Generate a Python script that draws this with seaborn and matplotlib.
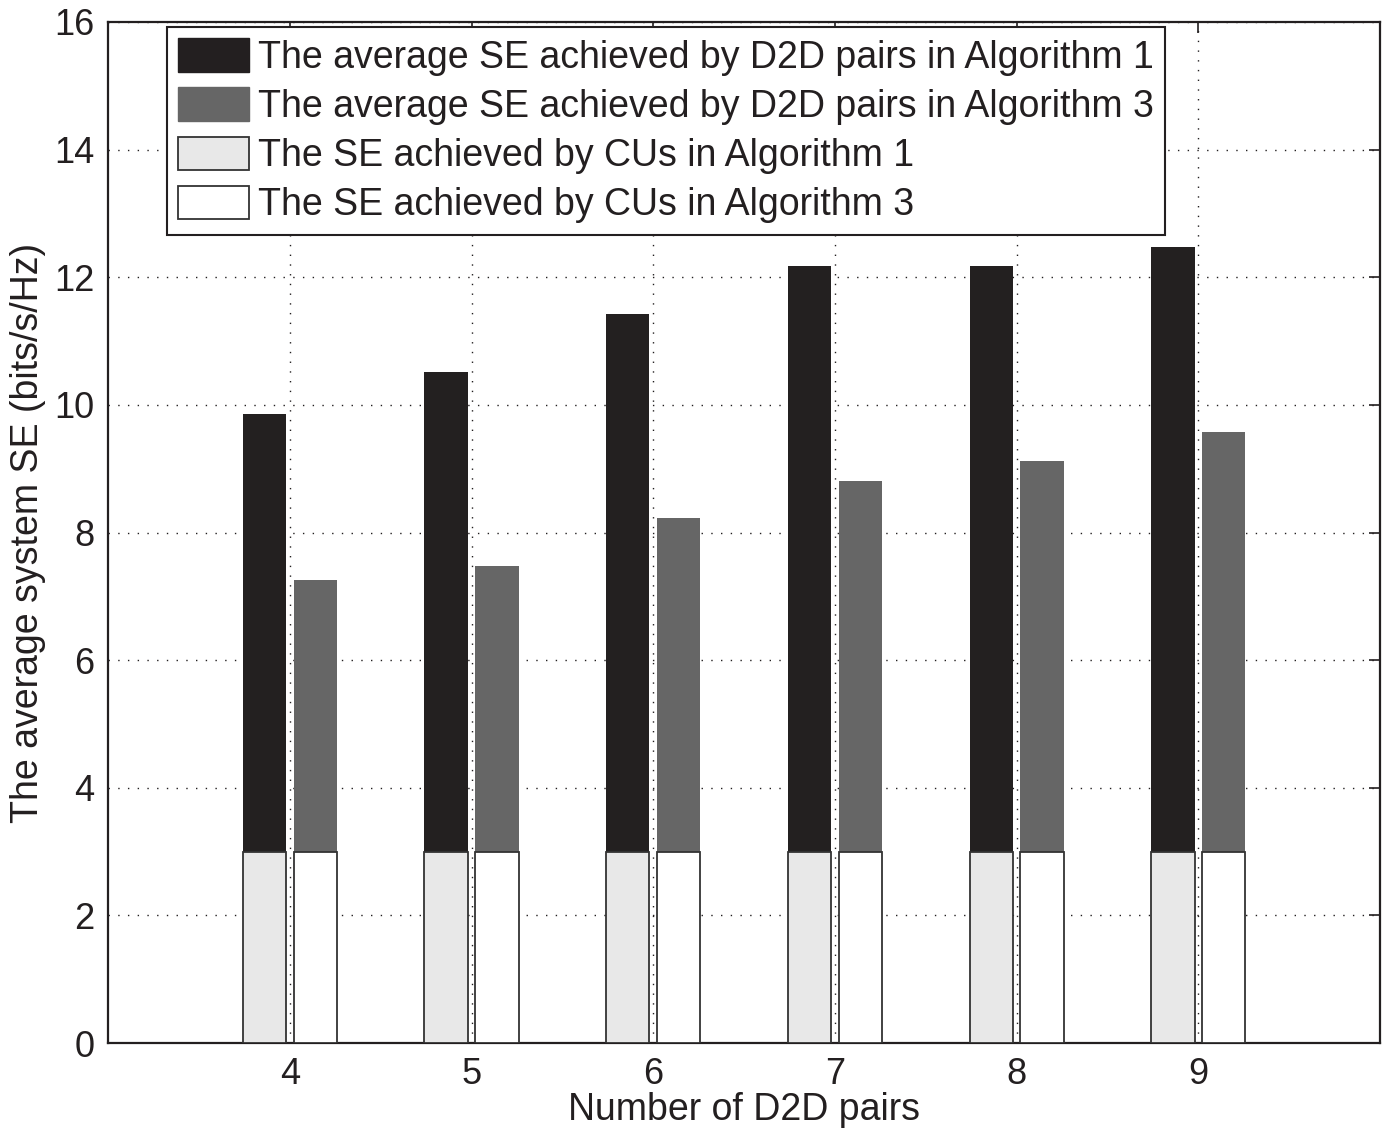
import numpy as np
import pandas as pd
import matplotlib
matplotlib.use("Agg")
import matplotlib.pyplot as plt
from matplotlib.patches import Patch
import seaborn as sns

# ---- data ----
pairs = [4, 5, 6, 7, 8, 9]
d2d_alg1 = [6.85, 7.52, 8.43, 9.18, 9.18, 9.47]
d2d_alg3 = [4.25, 4.48, 5.22, 5.80, 6.12, 6.57]
cu_alg1 = [3, 3, 3, 3, 3, 3]
cu_alg3 = [3, 3, 3, 3, 3, 3]
algos = ["Algorithm 1", "Algorithm 3"]
legend_labels = [
    "The average SE achieved by D2D pairs in Algorithm 1",
    "The average SE achieved by D2D pairs in Algorithm 3",
    "The SE achieved by CUs in Algorithm 1",
    "The SE achieved by CUs in Algorithm 3",
]

sns.set_theme(style="white")
plt.rcParams["font.family"] = ["Liberation Sans", "DejaVu Sans"]

df_total = pd.DataFrame({
    "pairs": pairs * 2,
    "algo": [algos[0]] * len(pairs) + [algos[1]] * len(pairs),
    "value": list(np.add(d2d_alg1, cu_alg1)) + list(np.add(d2d_alg3, cu_alg3)),
})
df_cu = pd.DataFrame({
    "pairs": pairs * 2,
    "algo": [algos[0]] * len(pairs) + [algos[1]] * len(pairs),
    "value": cu_alg1 + cu_alg3,
})

c_d1, c_d3, c_c1, c_c3 = "#231f20", "#666666", "#e8e8e8", "#ffffff"

fig = plt.figure(figsize=(13.86, 11.33), dpi=100)
ax = fig.add_axes([0.078, 0.0794, 0.9177, 0.9012])

sns.barplot(data=df_total, x="pairs", y="value", hue="algo", hue_order=algos,
            palette={algos[0]: c_d1, algos[1]: c_d3}, native_scale=True,
            width=0.56, gap=0.15, edgecolor="none", linewidth=0,
            legend=False, ax=ax, zorder=2)
sns.barplot(data=df_cu, x="pairs", y="value", hue="algo", hue_order=algos,
            palette={algos[0]: c_c1, algos[1]: c_c3}, native_scale=True,
            width=0.56, gap=0.15, edgecolor="#333333", linewidth=1.3,
            legend=False, ax=ax, zorder=3)

ax.set_xlim(3, 10)
ax.set_ylim(0, 16)
ax.set_xticks(pairs)
ax.set_xticklabels([str(p) for p in pairs])
ax.set_yticks(np.arange(0, 17, 2))
ax.set_axisbelow(True)
ax.grid(True, linestyle=(0, (1, 6)), color="#231f20", linewidth=1.0)
ax.tick_params(direction="in", length=8, width=1.2, top=True, right=True,
               labelsize=26, colors="#231f20", pad=10)
for s in ax.spines.values():
    s.set_visible(True)
    s.set_color("#231f20")
    s.set_linewidth(1.6)

ax.set_xlabel("Number of D2D pairs", fontsize=27, color="#231f20", labelpad=0)
ax.set_ylabel("The average system SE (bits/s/Hz)", fontsize=27, color="#231f20", labelpad=6)

handles = [
    Patch(facecolor=c_d1, edgecolor=c_d1, linewidth=1.0),
    Patch(facecolor=c_d3, edgecolor=c_d3, linewidth=1.0),
    Patch(facecolor=c_c1, edgecolor="#333333", linewidth=1.3),
    Patch(facecolor=c_c3, edgecolor="#333333", linewidth=1.3),
]
leg = ax.legend(handles, legend_labels, loc="upper left",
                bbox_to_anchor=(0.0464, 0.995), borderaxespad=0,
                fontsize=27, handlelength=1.89, handleheight=0.99,
                handletextpad=0.24, labelspacing=0.31, borderpad=0.3,
                fancybox=False, framealpha=1, edgecolor="#231f20")
leg.get_frame().set_linewidth(1.5)
for t in leg.get_texts():
    t.set_color("#231f20")

fig.savefig("out.png", dpi=100)
